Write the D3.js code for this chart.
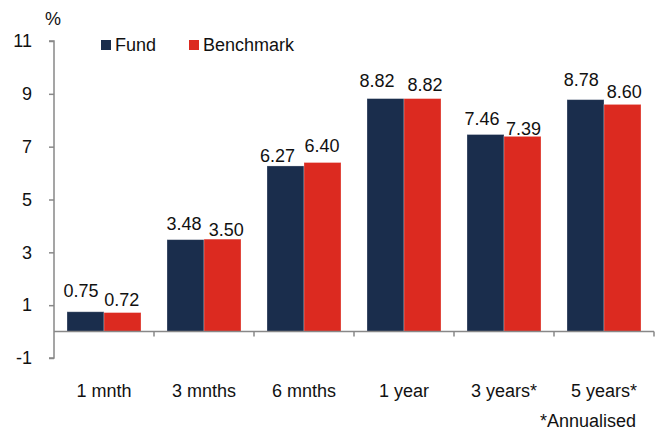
<!DOCTYPE html>
<html><head><meta charset="utf-8">
<script src="https://cdn.jsdelivr.net/npm/d3@7"></script>
<style>body{margin:0;background:#fff}text{font-family:"Liberation Sans",Arial,sans-serif;fill:#111}</style>
</head><body><svg id="c" width="661" height="432"></svg>
<script>
const categories = ["1 mnth","3 mnths","6 mnths","1 year","3 years*","5 years*"];
const fund = [0.75,3.48,6.27,8.82,7.46,8.78];
const benchmark = [0.72,3.50,6.40,8.82,7.39,8.60];
const seriesNames = ["Fund","Benchmark"];
const yTicks = [-1,1,3,5,7,9,11];
const colors = ["#1a2d4c","#dc2a20"];
// label layout nudges (px) relative to bar top/centre, per series
const labelDx = [[-4.5,-1.5,-8,-8.5,-3.5,-4.2],[-0.8,3.7,-0.6,2.5,1,1.7]];
const labelGap = [[15,10,4.4,12,10,14],[6.3,3.3,11,8,1.7,6]];

const FS = 18;
const svg = d3.select("#c");
const x0 = 54, x1 = 654;
const y = d3.scaleLinear().domain([-1,11]).range([358,41]);
const x = d3.scaleBand().domain(categories).range([x0,x1]).paddingInner(0.26).paddingOuter(0.13);
const xs = d3.scaleBand().domain(seriesNames).range([0,x.bandwidth()]);
const xc = d3.scaleBand().domain(categories).range([x0,x1]);

const series = [fund, benchmark];
const g = svg.append("g");
categories.forEach((c,i)=>{
  series.forEach((arr,j)=>{
    const v = arr[i];
    const bx = x(c)+xs(seriesNames[j]);
    g.append("rect").attr("x",bx).attr("width",xs.bandwidth())
      .attr("y",y(Math.max(0,v))).attr("height",Math.abs(y(v)-y(0)))
      .attr("fill",colors[j]).attr("stroke","rgba(255,255,255,0.35)").attr("stroke-width",0.8);
    g.append("text").attr("x",bx+xs.bandwidth()/2+labelDx[j][i]).attr("y",y(v)-labelGap[j][i])
      .attr("text-anchor","middle").attr("font-size",FS).text(v.toFixed(2));
  });
});

// Y axis
const ya = svg.append("g").attr("transform",`translate(${x0},0)`)
  .call(d3.axisLeft(y).tickValues(yTicks).tickSize(5).tickPadding(17).tickFormat(d=>d<0?"-"+Math.abs(d):String(d)));
ya.select(".domain").attr("stroke","#888").attr("stroke-width",1.5).attr("d",`M-5,${y(11)}H0V${y(-1)}H-5`);
ya.selectAll(".tick line").attr("stroke","#888").attr("stroke-width",1.5);
ya.selectAll(".tick text").attr("font-size",FS).attr("fill","#111").attr("font-family","Liberation Sans, Arial, sans-serif");

// X axis at y=0
const xa = svg.append("g").attr("transform",`translate(0,${y(0)})`);
xa.append("line").attr("x1",x0).attr("x2",x1).attr("stroke","#888").attr("stroke-width",1.5);
const bounds = categories.map(c=>xc(c)+xc.bandwidth());
xa.selectAll("line.t").data(bounds).enter().append("line").attr("class","t")
  .attr("x1",d=>d).attr("x2",d=>d).attr("y1",0).attr("y2",5).attr("stroke","#888").attr("stroke-width",1.5);
svg.selectAll("text.xl").data(categories).enter().append("text").attr("class","xl")
  .attr("x",d=>xc(d)+xc.bandwidth()/2).attr("y",397).attr("text-anchor","middle").attr("font-size",FS).text(d=>d);

svg.append("text").attr("x",53).attr("y",25).attr("text-anchor","middle").attr("font-size",FS).text("%");
svg.append("text").attr("x",636).attr("y",427).attr("text-anchor","end").attr("font-size",FS).text("*Annualised");

// legend
const legX = [101,189];
seriesNames.forEach((n,j)=>{
  svg.append("rect").attr("x",legX[j]).attr("y",40).attr("width",10).attr("height",10).attr("fill",colors[j]);
  svg.append("text").attr("x",legX[j]+14).attr("y",51).attr("font-size",FS).text(n);
});
</script></body></html>
